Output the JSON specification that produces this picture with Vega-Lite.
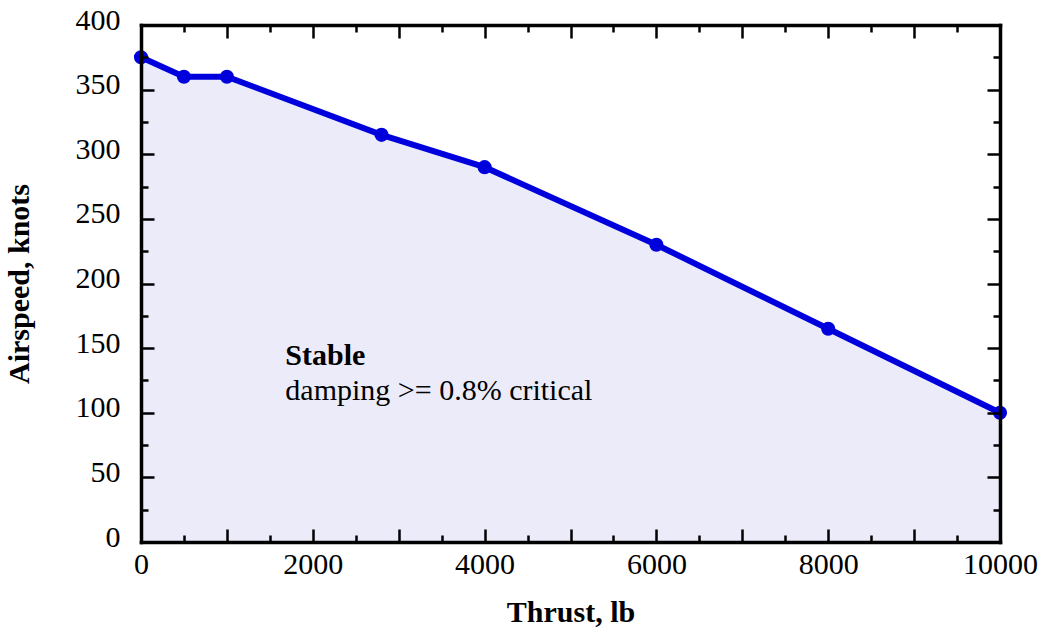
{
  "$schema": "https://vega.github.io/schema/vega-lite/v6.json",
  "width": 859,
  "height": 517,
  "autosize": {"type": "none"},
  "padding": {"left": 141, "top": 25, "right": 39, "bottom": 93},
  "background": "white",
  "config": {
    "view": {"stroke": null},
    "font": "Liberation Serif",
    "axis": {
      "zindex": 1,
      "domain": true,
      "domainColor": "black",
      "domainWidth": 3.5,
      "domainCap": "square",
      "grid": false,
      "tickColor": "black",
      "tickWidth": 2.5,
      "labelFont": "Liberation Serif",
      "labelFontSize": 30,
      "labelColor": "black",
      "titleFont": "Liberation Serif",
      "titleFontSize": 30,
      "titleFontWeight": "bold",
      "titleColor": "black"
    }
  },
  "datasets": {
    "curve": [
      {"thrust": 0, "airspeed": 375},
      {"thrust": 500, "airspeed": 360},
      {"thrust": 1000, "airspeed": 360},
      {"thrust": 2800, "airspeed": 315},
      {"thrust": 4000, "airspeed": 290},
      {"thrust": 6000, "airspeed": 230},
      {"thrust": 8000, "airspeed": 165},
      {"thrust": 10000, "airspeed": 100}
    ]
  },
  "layer": [
    {
      "data": {"name": "curve"},
      "mark": {"type": "area", "color": "#ebebfa", "opacity": 1},
      "encoding": {
        "x": {
          "field": "thrust", "type": "quantitative",
          "scale": {"domain": [0, 10000], "nice": false, "zero": false},
          "axis": {
            "orient": "bottom",
            "zindex": 1,
            "title": "Thrust, lb",
            "titlePadding": 18,
            "values": [0,1000,2000,3000,4000,5000,6000,7000,8000,9000,10000],
            "labelExpr": "datum.value % 2000 === 0 ? datum.label : ''",
            "format": "d",
            "tickSize": -13,
            "labelPadding": 20,
            "labelFlush": false,
            "labelOverlap": false
          }
        },
        "y": {
          "field": "airspeed", "type": "quantitative",
          "scale": {"domain": [0, 400], "nice": false},
          "axis": {
            "orient": "left",
            "zindex": 1,
            "title": "Airspeed, knots",
            "titlePadding": 41,
            "values": [0,50,100,150,200,250,300,350,400],
            "tickSize": -13,
            "labelPadding": 34,
            "labelOffset": -5,
            "labelFlush": false,
            "labelOverlap": false
          }
        }
      }
    },
    {
      "data": {"name": "curve"},
      "mark": {"type": "line", "color": "#0000dd", "strokeWidth": 6, "point": {"filled": true, "size": 200, "color": "#0000dd"}},
      "encoding": {
        "x": {
          "field": "thrust", "type": "quantitative",
          "axis": {
            "orient": "top",
            "zindex": 1,
            "title": null,
            "values": [0,1000,2000,3000,4000,5000,6000,7000,8000,9000,10000],
            "labels": false,
            "tickSize": -13
          }
        },
        "y": {
          "field": "airspeed", "type": "quantitative",
          "axis": {
            "orient": "right",
            "zindex": 1,
            "title": null,
            "values": [0,50,100,150,200,250,300,350,400],
            "labels": false,
            "tickSize": -13
          }
        }
      }
    },
    {
      "data": {"values": [{"thrust": 1680, "airspeed": 144, "label": "Stable"}]},
      "mark": {"type": "text", "align": "left", "baseline": "middle", "font": "Liberation Serif", "fontSize": 30, "fontWeight": "bold", "color": "black"},
      "encoding": {
        "x": {
          "field": "thrust", "type": "quantitative",
          "axis": {"orient": "bottom", "zindex": 1, "title": null, "labels": false, "domain": false,
            "values": [500,1500,2500,3500,4500,5500,6500,7500,8500,9500], "tickSize": -7}
        },
        "y": {
          "field": "airspeed", "type": "quantitative",
          "axis": {"orient": "left", "zindex": 1, "title": null, "labels": false, "domain": false,
            "values": [25,75,125,175,225,275,325,375], "tickSize": -7}
        },
        "text": {"field": "label"}
      }
    },
    {
      "data": {"values": [{"thrust": 1680, "airspeed": 117, "label": "damping >= 0.8% critical"}]},
      "mark": {"type": "text", "align": "left", "baseline": "middle", "font": "Liberation Serif", "fontSize": 30, "color": "black"},
      "encoding": {
        "x": {
          "field": "thrust", "type": "quantitative",
          "axis": {"orient": "top", "zindex": 1, "title": null, "labels": false, "domain": false,
            "values": [500,1500,2500,3500,4500,5500,6500,7500,8500,9500], "tickSize": -7}
        },
        "y": {
          "field": "airspeed", "type": "quantitative",
          "axis": {"orient": "right", "zindex": 1, "title": null, "labels": false, "domain": false,
            "values": [25,75,125,175,225,275,325,375], "tickSize": -7}
        },
        "text": {"field": "label"}
      }
    }
  ],
  "resolve": {"axis": {"x": "independent", "y": "independent"}}
}
